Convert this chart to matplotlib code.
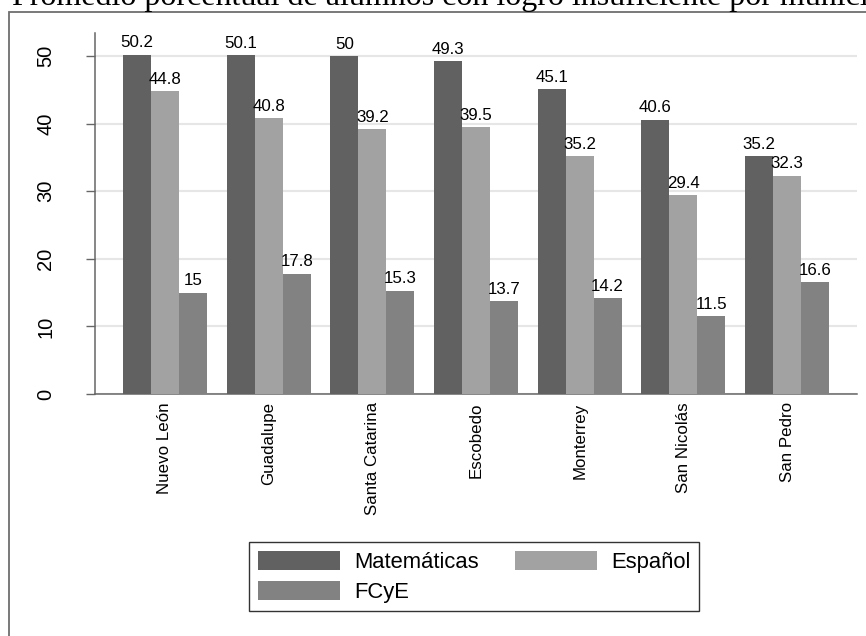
import numpy as np
import matplotlib.pyplot as plt
from matplotlib.patches import Rectangle

plt.rc("font", **{"family": "sans-serif", "sans-serif": ["Liberation Sans", "DejaVu Sans"]})

municipios = ["Nuevo León", "Guadalupe", "Santa Catarina", "Escobedo", "Monterrey", "San Nicolás", "San Pedro"]
matematicas = [50.2, 50.1, 50, 49.3, 45.1, 40.6, 35.2]
espanol = [44.8, 40.8, 39.2, 39.5, 35.2, 29.4, 32.3]
fcye = [15, 17.8, 15.3, 13.7, 14.2, 11.5, 16.6]

series = [("Matemáticas", matematicas, "#616161"),
          ("Español", espanol, "#a2a2a2"),
          ("FCyE", fcye, "#828282")]

W, H = 866, 636
fig = plt.figure(figsize=(W/100, H/100), dpi=100)

# marco exterior y titulo
fig.patches.append(Rectangle((9/W, -0.2), 1.5, 1 - 12/H + 0.2, transform=fig.transFigure,
                             fill=False, edgecolor="#6e6e6e", lw=1.3))
fig.text(12/W, 1 - 5/H, "Promedio porcentual de alumnos con logro insuficiente por municipio",
         family="Liberation Serif", fontsize=23, ha="left", va="baseline")

ax = fig.add_axes([95/W, (H-394)/H, (857-95)/W, (394-33)/H])
x = np.arange(len(municipios))
w = 0.27
handles = []
for i, (nombre, vals, col) in enumerate(series):
    barras = ax.bar(x + (i-1)*w, vals, w, color=col, label=nombre, zorder=3)
    handles.append(barras)
    for b, v in zip(barras, vals):
        ax.annotate("%g" % v, (b.get_x() + b.get_width()/2, v), xytext=(0, 3),
                    textcoords="offset points", ha="center", va="bottom", fontsize=12.2, zorder=4)

ax.set_xlim(-0.675, len(municipios) - 1 + 0.675)
ax.set_ylim(0, 53.4)
ax.set_yticks(np.arange(0, 51, 10))
ax.set_xticks(x)
ax.set_xticklabels(municipios, rotation=90, fontsize=12.2)
ax.tick_params(axis="x", length=0, pad=6)
ax.tick_params(axis="y", length=6.5, width=1, color="#666666", pad=22, labelsize=14.5)
for t in ax.get_yticklabels():
    t.set_rotation(90)
    t.set_va("center")
ax.yaxis.grid(True, color="#e6e6e6", lw=1.5, zorder=0)
ax.set_axisbelow(True)
for s in ["top", "right"]:
    ax.spines[s].set_visible(False)
for s in ["left", "bottom"]:
    ax.spines[s].set_color("#666666")
    ax.spines[s].set_linewidth(1.1)

# orden por filas: Matemáticas, Español / FCyE
orden = [0, 2, 1]
leg = fig.legend([handles[k] for k in orden], [series[k][0] for k in orden],
                 loc="upper left", bbox_to_anchor=(249/W, 1 - 542/H), ncol=2,
                 fontsize=15.8, frameon=True, fancybox=False, borderaxespad=0,
                 handlelength=3.75, handleheight=0.96, handletextpad=0.64,
                 columnspacing=1.64, labelspacing=0.35, borderpad=0.4)
leg.get_frame().set_edgecolor("black")
leg.get_frame().set_linewidth(1)

fig.savefig("out.png", dpi=100)
